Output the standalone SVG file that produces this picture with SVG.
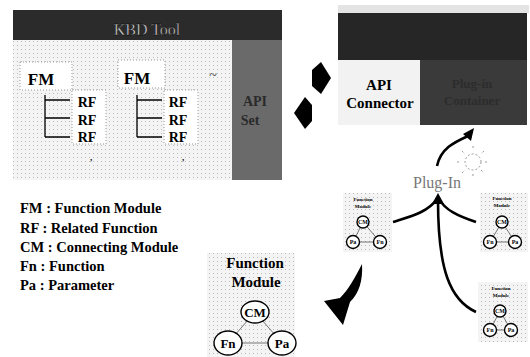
<svg xmlns="http://www.w3.org/2000/svg" width="530" height="357" viewBox="0 0 530 357">
<defs>
<style>
.b{font-family:"Liberation Serif","Times New Roman",serif;font-weight:bold;fill:#000}
.r{font-family:"Liberation Serif","Times New Roman",serif}
.dot{fill:#fff;stroke:#999;stroke-width:1;stroke-dasharray:1 2}
.ln{stroke:#000;stroke-width:1.3;fill:none}
.cir{fill:#fff;stroke:#000;stroke-width:1.4}
.thin{stroke:#555;stroke-width:0.8;fill:none}
.cv{stroke:#000;stroke-width:2.6;fill:none}
</style>
<pattern id="spk" width="4" height="4" patternUnits="userSpaceOnUse">
<rect width="4" height="4" fill="#f4f4f4"/>
<rect x="1" y="1" width="1" height="1" fill="#bbb"/>
</pattern>
</defs>
<rect width="530" height="357" fill="#fff"/>

<g id="kbd-tool">
<rect x="13" y="40" width="219" height="140" fill="url(#spk)"/>
<rect x="13" y="10" width="269" height="30" fill="#2b2b2b"/>
<text class="r" x="147" y="35" text-anchor="middle" font-size="16" fill="#ddd" stroke="#000" stroke-width="0.4">KBD Tool</text>
</g>

<g id="api-set">
<rect x="232" y="40" width="50" height="140" fill="#6a6a6a"/>
<text class="b" x="255" y="106" text-anchor="middle" font-size="14" style="fill:#2a2a2a">API</text>
<text class="b" x="250" y="125" text-anchor="middle" font-size="14" style="fill:#2a2a2a">Set</text>
</g>

<g id="fm1">
<rect class="dot" x="20" y="62" width="52" height="28"/>
<text class="b" x="41" y="85" text-anchor="middle" font-size="17">FM</text>
<rect class="dot" x="72" y="90" width="34" height="54"/>
<path class="ln" d="M45 95V137M45 100H70M45 118H70M45 137H70"/>
<text class="b" x="87" y="107" text-anchor="middle" font-size="14">RF</text>
<text class="b" x="87" y="125" text-anchor="middle" font-size="14">RF</text>
<text class="b" x="87" y="142" text-anchor="middle" font-size="14">RF</text>
<text class="b" x="90" y="160" font-size="9">,</text>
</g>

<g id="fm2">
<rect class="dot" x="118" y="60" width="47" height="28"/>
<text class="b" x="137" y="84" text-anchor="middle" font-size="17">FM</text>
<rect class="dot" x="164" y="90" width="34" height="54"/>
<path class="ln" d="M137 95V137M137 100H162M137 118H162M137 137H162"/>
<text class="b" x="178" y="107" text-anchor="middle" font-size="14">RF</text>
<text class="b" x="178" y="125" text-anchor="middle" font-size="14">RF</text>
<text class="b" x="178" y="142" text-anchor="middle" font-size="14">RF</text>
<text class="b" x="182" y="160" font-size="9">,</text>
<text class="r" x="213" y="80" text-anchor="middle" font-size="14" fill="#333">~</text>
</g>

<g id="plugin-container">
<rect x="338" y="5" width="191" height="8" fill="#e4e4e4"/>
<rect x="338" y="13" width="189" height="112" fill="#262626"/>
<rect x="420" y="60" width="107" height="65" fill="#3a3a3a"/>
<text class="b" x="472" y="88" text-anchor="middle" font-size="13" style="fill:#2c2c2c">Plug-in</text>
<text class="b" x="472" y="105" text-anchor="middle" font-size="13" style="fill:#2c2c2c">Container</text>
</g>

<g id="api-connector">
<rect x="338" y="60" width="82" height="65" fill="#f2f2f2"/>
<text class="b" x="379" y="90" text-anchor="middle" font-size="15">API</text>
<text class="b" x="380" y="108" text-anchor="middle" font-size="15">Connector</text>
</g>

<g id="plug-in">
<g stroke="#999" stroke-width="1" stroke-dasharray="2 2" fill="none">
<circle cx="473" cy="162" r="8"/>
<path d="M473 146V150M473 174V178M457 162H461M485 162H489M462 151L465 154M481 170L484 173M484 151L481 154M462 173L465 170"/>
</g>
<text class="r" x="437" y="188" text-anchor="middle" font-size="16" fill="#777">Plug-In</text>
</g>

<g id="fmod-a">
<rect x="343" y="193" width="49" height="59" fill="url(#spk)"/>
<text class="b" x="363" y="201" text-anchor="middle" font-size="5">Function</text>
<text class="b" x="363" y="208" text-anchor="middle" font-size="5">Module</text>
<path class="thin" d="M363 222L353 242L380 242Z"/>
<circle class="cir" cx="363" cy="222" r="6"/>
<circle class="cir" cx="353" cy="242" r="6.5"/>
<circle class="cir" cx="380" cy="242" r="6.5"/>
<text class="b" x="363" y="224" text-anchor="middle" font-size="6">CM</text>
<text class="b" x="353" y="244" text-anchor="middle" font-size="6">Pa</text>
<text class="b" x="380" y="244" text-anchor="middle" font-size="6">Fn</text>
</g>

<g id="fmod-b">
<rect x="480" y="193" width="48" height="59" fill="url(#spk)"/>
<text class="b" x="502" y="200" text-anchor="middle" font-size="5">Function</text>
<text class="b" x="502" y="207" text-anchor="middle" font-size="5">Module</text>
<path class="thin" d="M502 222L490 242L515 242Z"/>
<circle class="cir" cx="502" cy="222" r="6"/>
<circle class="cir" cx="490" cy="242" r="6.5"/>
<circle class="cir" cx="515" cy="242" r="6.5"/>
<text class="b" x="502" y="224" text-anchor="middle" font-size="6">CM</text>
<text class="b" x="490" y="244" text-anchor="middle" font-size="6">Fn</text>
<text class="b" x="515" y="244" text-anchor="middle" font-size="6">Pa</text>
</g>

<g id="fmod-c">
<rect x="478" y="282" width="50" height="60" fill="url(#spk)"/>
<text class="b" x="501" y="290" text-anchor="middle" font-size="5">Function</text>
<text class="b" x="501" y="297" text-anchor="middle" font-size="5">Module</text>
<path class="thin" d="M500 311L490 330L511 330Z"/>
<circle class="cir" cx="500" cy="311" r="6"/>
<circle class="cir" cx="490" cy="330" r="6.5"/>
<circle class="cir" cx="511" cy="330" r="6.5"/>
<text class="b" x="500" y="313" text-anchor="middle" font-size="6">CM</text>
<text class="b" x="490" y="332" text-anchor="middle" font-size="6">Fn</text>
<text class="b" x="511" y="332" text-anchor="middle" font-size="6">Pa</text>
</g>

<g id="function-module">
<rect x="207" y="253" width="88" height="104" fill="url(#spk)"/>
<text class="b" x="255" y="268" text-anchor="middle" font-size="15">Function</text>
<text class="b" x="256" y="287" text-anchor="middle" font-size="15">Module</text>
<path class="thin" d="M255 312L228 343L282 343Z"/>
<ellipse class="cir" cx="255" cy="312" rx="14" ry="11"/>
<ellipse class="cir" cx="228" cy="343" rx="14" ry="12"/>
<ellipse class="cir" cx="282" cy="343" rx="14" ry="12"/>
<text class="b" x="255" y="317" text-anchor="middle" font-size="13">CM</text>
<text class="b" x="228" y="348" text-anchor="middle" font-size="13">Fn</text>
<text class="b" x="282" y="348" text-anchor="middle" font-size="13">Pa</text>
</g>

<g id="legend">
<text class="b" x="20" y="213" font-size="14.5">FM : Function Module</text>
<text class="b" x="20" y="233" font-size="14.5">RF : Related Function</text>
<text class="b" x="20" y="252" font-size="14.5">CM : Connecting Module</text>
<text class="b" x="20" y="271" font-size="14.5">Fn : Function</text>
<text class="b" x="20" y="290" font-size="14.5">Pa : Parameter</text>
</g>

<g id="connectors">
<polygon points="312,70 321,62 331,78 321,94 312,86" fill="#000"/>
<polygon points="312,105 305,97 294,113 305,129 312,121" fill="#000"/>
<path class="cv" d="M437 166C441 148 455 142 468 136"/>
<polygon points="474,128 471,141 463,134" fill="#000"/>
<path class="cv" d="M393 222C412 216 428 212 437 199"/>
<path class="cv" d="M476 222C458 216 445 210 439 199"/>
<path class="cv" d="M476 312C450 300 438 270 438 200"/>
<polygon points="438,193 444,204 432,204" fill="#000"/>
<path d="M362 264C363 281 359 293 350 302L343 325L324 301L340 298C349 289 354 279 362 264Z" fill="#000"/>
</g>
</svg>
